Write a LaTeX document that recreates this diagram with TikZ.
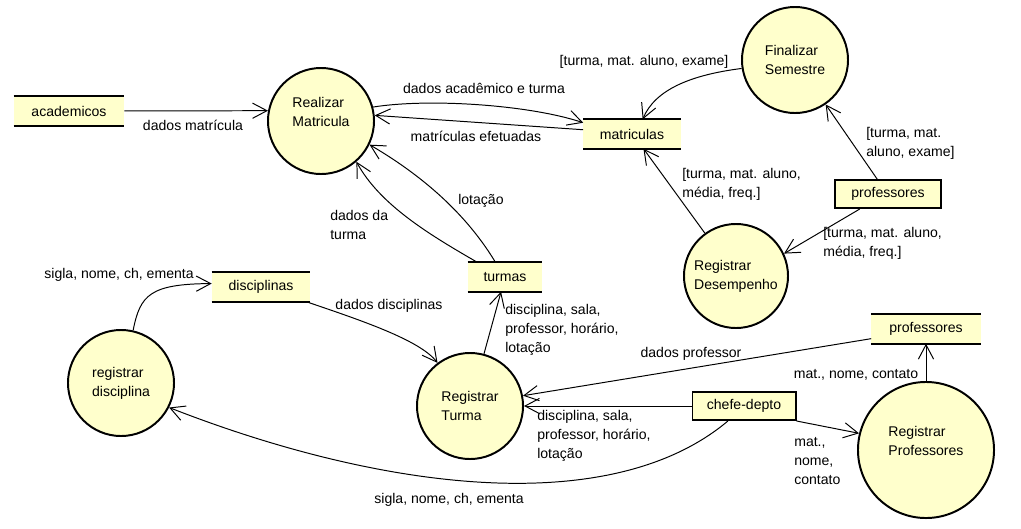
\documentclass[tikz,border=0pt]{standalone}
\usepackage{fontspec}
\setmainfont{Liberation Sans}
\usetikzlibrary{arrows.meta}
\definecolor{dfdyellow}{HTML}{FFFFCC}

\begin{document}
\begin{tikzpicture}[x=0.025cm, y=-0.025cm,
    font=\fontsize{10pt}{13.5pt}\selectfont,
    proc/.style={circle, draw, line width=1.4pt, fill=dfdyellow, align=left, inner sep=0pt, minimum size=2.65cm},
    store/.style={fill=dfdyellow, minimum height=0.72cm, inner sep=0pt},
    storeline/.style={line width=1.4pt},
    ext/.style={draw, line width=1.4pt, fill=dfdyellow, minimum height=0.7cm, inner sep=0pt},
    flow/.style={line width=0.7pt, -{Straight Barb[length=3.6mm,width=3.8mm]}},
    lbl/.style={inner sep=0pt, align=left}]
            \useasboundingbox (0,0) rectangle (1021,528);

            % processes
            \node[proc] at (321,121) (rm) {Realizar\\Matricula\\~};
            \node[proc] at (795,60)  (fs) {Finalizar\\Semestre};
            \node[proc, minimum size=2.6cm] at (736,276) (rd) {Registrar\\Desempenho};
            \node[proc] at (121,383) (rdisc) {registrar\\disciplina};
            \node[proc] at (470,406) (rt) {Registrar\\Turma};
            \node[proc, minimum size=3.4cm] at (926,450) (rp) {Registrar\\Professores\\~};

            % data stores
            \node[store, minimum width=2.75cm]  at (69,111)  (acad)  {academicos};
            \node[store, minimum width=2.425cm] at (632,134) (mat)   {matriculas};
            \node[store, minimum width=2.45cm]  at (261,287) (disc)  {disciplinas};
            \node[store, minimum width=1.85cm]  at (505,277) (tu)    {turmas};
            \node[store, minimum width=2.725cm] at (926,329) (profs) {professores};
            \foreach \s in {acad, mat, disc, tu, profs}
                \draw[storeline] (\s.north west) -- (\s.north east) (\s.south west) -- (\s.south east);

            % external entities
            \node[ext, minimum width=2.65cm]  at (888,194) (profe) {professores};
            \node[ext, minimum width=2.575cm] at (744,406) (chefe) {chefe-depto};

            % flows
            \draw[flow] (acad) -- (rm.169);
            \draw[flow] (rm.15) .. controls (430,98) and (530,105) .. (mat.167);
            \draw[flow] (mat.175) -- (rm.6);
            \draw[flow] (fs.189) .. controls (690,75) and (655,90) .. (mat.54);
            \draw[flow] (rd) -- (mat.-52);
            \draw[flow] (profe.126) -- (fs);
            \draw[flow] (profe.208) -- (rd.25);
            \draw[flow] (tu.152) .. controls (430,235) and (380,205) .. (rm.-49);
            \draw[flow] (tu.123) .. controls (470,220) and (430,180) .. (rm.-26);
            \draw[flow] (rdisc.77) .. controls (140,295) and (150,284) .. (disc.176);
            \draw[flow] (disc.-18) .. controls (360,320) and (420,340) .. (rt.127);
            \draw[flow] (rt.75) -- (tu.-105);
            \draw[flow] (profs.190) -- (rt.11);
            \draw[flow] (chefe) -- (rt);
            \draw[flow] (chefe.223) .. controls (610,520) and (380,490) .. (rdisc.-27);
            \draw[flow] (chefe.south east) -- (rp.166);
            \draw[flow] (rp) -- (profs);

            % flow labels
            \node[lbl] at (193,125) (l-dm) {dados matrícula};
            \node[lbl] at (484,88)  (l-dat) {dados acadêmico e turma};
            \node[lbl] at (476,136) (l-me) {matrículas efetuadas};
            \node[lbl] at (644,62)  (l-fs) {[turma, mat. aluno, exame]};
            \node[lbl, anchor=west] at (682,184) (l-rd) {[turma, mat. aluno,\\média, freq.]};
            \node[lbl, anchor=west] at (866,143) (l-pf) {[turma, mat.\\aluno, exame]};
            \node[lbl, anchor=west] at (823,243) (l-pd) {[turma, mat. aluno,\\média, freq.]};
            \node[lbl, anchor=west] at (330,225) (l-dt) {dados da\\turma};
            \node[lbl, anchor=west] at (458,201) (l-lot) {lotação};
            \node[lbl] at (119,275) (l-snce) {sigla, nome, ch, ementa};
            \node[lbl] at (389,306) (l-dd) {dados disciplinas};
            \node[lbl, anchor=west] at (505,330) (l-rt) {disciplina, sala,\\professor, horário,\\lotação};
            \node[lbl] at (691,354) (l-dp) {dados professor};
            \node[lbl, anchor=west] at (537,436) (l-ct) {disciplina, sala,\\professor, horário,\\lotação};
            \node[lbl] at (449,500) (l-cd) {sigla, nome, ch, ementa};
            \node[lbl] at (856,375) (l-rp) {mat., nome, contato};
            \node[lbl, anchor=west] at (794,461) (l-cp) {mat.,\\nome,\\contato};
        \end{tikzpicture}
\end{document}
